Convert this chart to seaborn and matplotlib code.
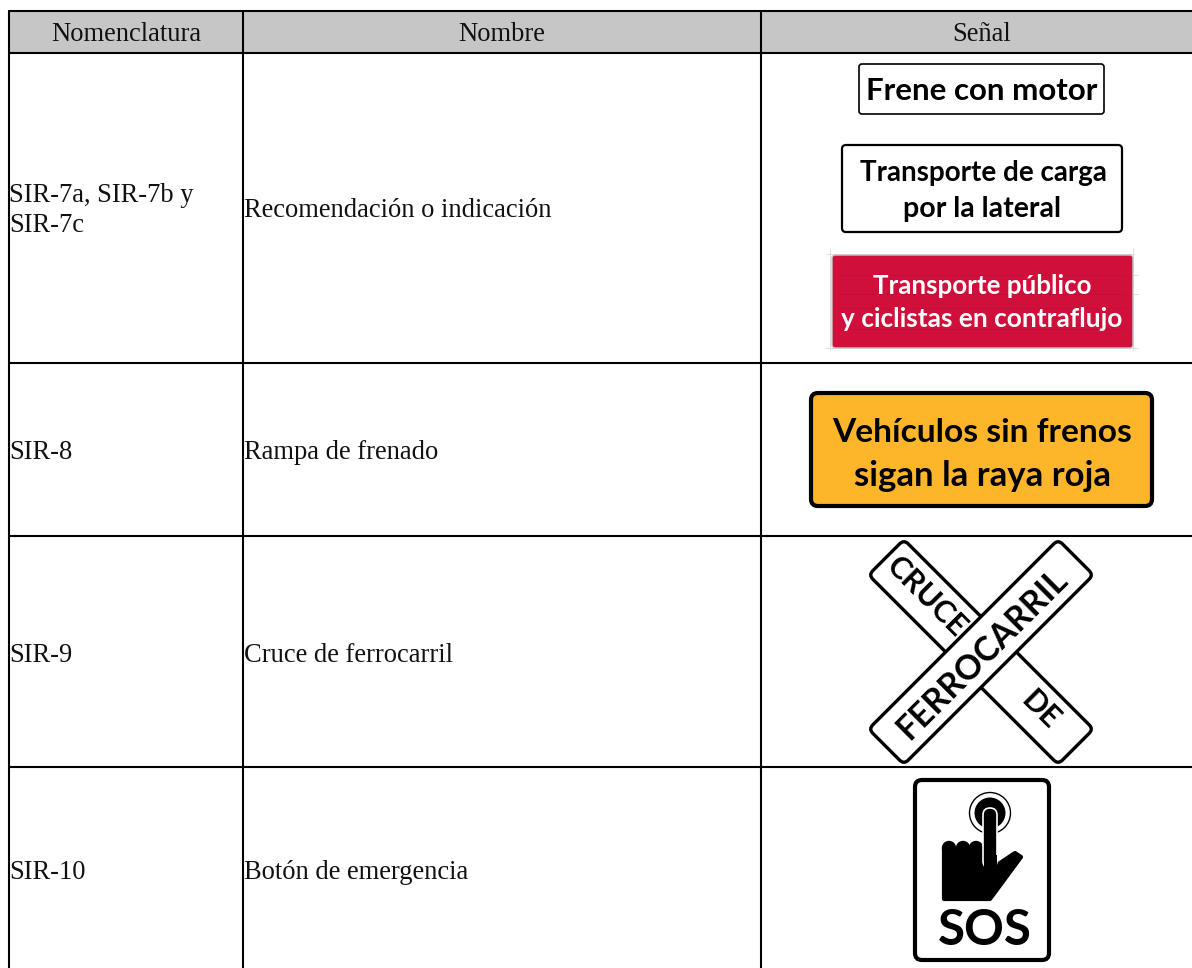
import matplotlib
matplotlib.use("Agg")
import matplotlib.pyplot as plt
import matplotlib.transforms as mtrans
from matplotlib.patches import Circle, FancyBboxPatch, PathPatch, Rectangle
from matplotlib.path import Path
import seaborn as sns

# table content
headers = ["Nomenclatura", "Nombre", "Señal"]
codes = ["SIR-7a, SIR-7b y\nSIR-7c", "SIR-8", "SIR-9", "SIR-10"]
names = ["Recomendación o indicación", "Rampa de frenado", "Cruce de ferrocarril", "Botón de emergencia"]

# table layout, in pixels of the 1192x968 picture
col_lines = [9, 243, 761]
row_lines = [11, 53, 363, 536, 767]
name_baselines = [217, 459, 662, 879]
code_baselines = [202, 459, 662, 879]

sns.set_theme(style="white")
plt.rcParams['font.family'] = ['Liberation Serif', 'DejaVu Sans']
SIGN_FONT = ['Lato', 'DejaVu Sans']

fig = plt.figure(figsize=(11.92, 9.68), dpi=100)
ax = fig.add_axes([0, 0, 1, 1])
ax.set_xlim(0, 1192)
ax.set_ylim(968, 0)
ax.axis('off')


def rounded(x0, y0, x1, y1, r, face, edge, lw, z=3, **kw):
    patch = FancyBboxPatch((x0 + r, y0 + r), x1 - x0 - 2 * r, y1 - y0 - 2 * r,
                           boxstyle=f"round,pad={r},rounding_size={r}",
                           facecolor=face, edgecolor=edge, linewidth=lw, zorder=z, **kw)
    ax.add_patch(patch)
    return patch


def sign_text(x, y, s, size, color='black', weight='bold', rotation=0, z=6, va='baseline'):
    ax.text(x, y, s, fontsize=size, color=color, fontweight=weight, family=SIGN_FONT,
            ha='center', va=va, rotation=rotation, rotation_mode='anchor', zorder=z)


# header band
ax.add_patch(Rectangle((col_lines[0], row_lines[0]), 1192 - col_lines[0], row_lines[1] - row_lines[0],
                       facecolor='#c6c6c6', edgecolor='none', zorder=1))

# table rules
for y in row_lines:
    sns.lineplot(x=[col_lines[0], 1192], y=[y, y], ax=ax, color='black', linewidth=1.5,
                 estimator=None, sort=False, zorder=2)
for x in col_lines:
    sns.lineplot(x=[x, x], y=[row_lines[0], 968], ax=ax, color='black', linewidth=1.5,
                 estimator=None, sort=False, zorder=2)

# header and cell text
for cx, h in zip([126, 502, 982], headers):
    ax.text(cx, 41, h, fontsize=19.1, ha='center', va='baseline', color='#111111')
for code, name, by, ny in zip(codes, names, code_baselines, name_baselines):
    lines = code.split("\n")
    for i, line in enumerate(lines):
        ax.text(9, by + i * 30.5, line, fontsize=19.1, ha='left', va='baseline', color='#111111')
    ax.text(244, ny, name, fontsize=19.1, ha='left', va='baseline', color='#111111')

# SIR-7 signs
rounded(859, 64, 1104, 114, 3, 'white', 'black', 1.2)
sign_text(982, 100, "Frene con motor", 22.5)

rounded(842, 145, 1122, 232, 4, 'white', 'black', 1.6)
sign_text(983, 181, "Transporte de carga", 20)
sign_text(982, 217, "por la lateral", 20.5)

# crop marks around the red sign
for xs, ys in [([826, 1134], [254, 254]), ([826, 1138], [348, 348]), ([1124, 1138], [275, 275]),
               ([1124, 1138], [294, 294]), ([830, 830], [248, 350]), ([1133, 1133], [248, 350])]:
    ax.plot(xs, ys, color='#d8d8d8', linewidth=0.6, zorder=2.5)
rounded(832, 255, 1133, 348, 3, '#d0103a', '#c9c9c9', 1.0)
for y in [275, 294, 308, 329]:
    ax.plot([840, 1125], [y, y], color='#c00d3c', linewidth=0.5, zorder=4)
sign_text(982, 294, "Transporte público", 18.6, color='white')
sign_text(982, 327, "y ciclistas en contraflujo", 18.9, color='white')

# SIR-8 sign
rounded(811, 393, 1152, 506, 7, '#fdb52a', 'black', 3.0)
sign_text(982, 442, "Vehículos sin frenos", 24.1)
sign_text(982, 486, "sigan la raya roja", 25)

# SIR-9 cross: one rounded arm per diagonal, the second one over the first
cx, cy = 981, 652
for angle in [45, -45]:
    arm = rounded(cx - 134, cy - 25, cx + 134, cy + 25, 6, 'white', 'black', 2.4, z=3 if angle == 45 else 4)
    arm.set_transform(mtrans.Affine2D().rotate_deg_around(cx, cy, angle) + ax.transData)
sign_text(927, 597, "CRUCE", 22, rotation=-45, va='center')
sign_text(1040, 710, "DE", 22, rotation=-45, va='center')
sign_text(982, 654, "FERROCARRIL", 24.3, rotation=45, va='center')

# SIR-10 sign
rounded(915, 780, 1049, 960, 7, 'white', 'black', 3.0)
bx, by = 880, 770
ax.add_patch(Circle((990, 813), 20.5, facecolor='none', edgecolor='black', linewidth=1.0, zorder=4))
ax.add_patch(Circle((990, 813), 15.5, facecolor='black', edgecolor='none', zorder=4))

# palm and thumb, then knuckles
palm_pts = [(64, 78), (104, 78), (117, 95), (135, 83), (141, 87), (110, 129), (64, 129), (64, 78)]
palm = Path([(bx + px, by + py) for px, py in palm_pts], [Path.MOVETO] + [Path.LINETO] * 6 + [Path.CLOSEPOLY])
ax.add_patch(PathPatch(palm, facecolor='black', edgecolor='black', linewidth=3, joinstyle='round', zorder=5))
for kx in [949, 963, 976]:
    ax.add_patch(Circle((kx, 848), 7.2, facecolor='black', edgecolor='none', zorder=5))
# index finger with a white halo over the button
rounded(983, 808, 997, 868, 7, 'black', 'white', 1.2, z=5.5)
ax.add_patch(Rectangle((983.5, 855), 13, 30, facecolor='black', edgecolor='none', zorder=5.6))
sign_text(985, 945, "SOS", 35.5)

fig.savefig("out.png", dpi=100)
